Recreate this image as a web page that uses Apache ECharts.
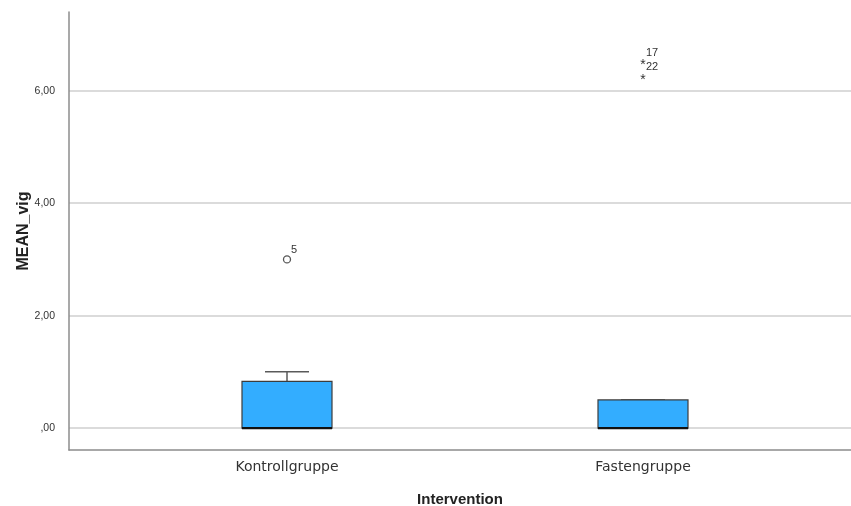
<!DOCTYPE html>
<html>
<head>
<meta charset="utf-8">
<script src="https://cdn.jsdelivr.net/npm/echarts@6/dist/echarts.min.js"></script>
<style>
  html, body { margin: 0; padding: 0; background: #fff; }
  #chart { width: 851px; height: 506px; }
</style>
</head>
<body>
<div id="chart"></div>
<script>
// Boxplot summary per group
const categories = ['Kontrollgruppe', 'Fastengruppe'];
const whiskerLow = [0, 0];
const q1 = [0, 0];
const median = [0, 0];
const q3 = [0.83, 0.5];
const whiskerHigh = [1.0, 0.5];

// Outliers (o) and extreme values (*) with case numbers
const outlierGroup = ['Kontrollgruppe', 'Fastengruppe', 'Fastengruppe'];
const outlierValue = [3.0, 6.5, 6.25];
const outlierCase = ['5', '17', '22'];
const outlierKind = ['o', '*', '*'];

// Y axis ticks and their labels
const yTicks = [0, 2, 4, 6];
const yTickLabels = [',00', '2,00', '4,00', '6,00'];

const Y_MIN = -0.39, Y_MAX = 7.4;
const FONT = '"Liberation Sans", Arial, sans-serif';

const boxData = categories.map((c, i) => [i, whiskerLow[i], q1[i], median[i], q3[i], whiskerHigh[i]]);
const outlierData = outlierGroup.map((g, i) => [categories.indexOf(g), outlierValue[i], i]);

function renderBox(params, api) {
  const x = api.value(0);
  const pLow = api.coord([x, api.value(1)]);
  const pQ1 = api.coord([x, api.value(2)]);
  const pMed = api.coord([x, api.value(3)]);
  const pQ3 = api.coord([x, api.value(4)]);
  const pHigh = api.coord([x, api.value(5)]);
  const half = 45, cap = 22;
  const cx = pQ1[0];
  const line = (x1, y1, x2, y2, color, w) => ({
    type: 'line', shape: { x1, y1, x2, y2 },
    style: { stroke: color, lineWidth: w }
  });
  return {
    type: 'group',
    children: [
      line(cx, pQ3[1], cx, pHigh[1], '#5a5a5a', 1.5),
      line(cx - cap, pHigh[1], cx + cap, pHigh[1], '#5a5a5a', 1.5),
      line(cx, pQ1[1], cx, pLow[1], '#5a5a5a', 1.5),
      line(cx - cap, pLow[1], cx + cap, pLow[1], '#5a5a5a', 1.5),
      {
        type: 'rect',
        shape: { x: cx - half, y: pQ3[1], width: half * 2, height: pQ1[1] - pQ3[1] },
        style: { fill: '#33adff', stroke: '#3c3c3c', lineWidth: 1.2 }
      },
      line(cx - half, pMed[1], cx + half, pMed[1], '#111', 2.2)
    ]
  };
}

function renderOutlier(params, api) {
  const p = api.coord([api.value(0), api.value(1)]);
  const idx = api.value(2);
  const kind = outlierKind[idx];
  const mark = kind === 'o'
    ? { type: 'circle', shape: { cx: p[0], cy: p[1], r: 3.5 }, style: { fill: 'none', stroke: '#555', lineWidth: 1.3 } }
    : { type: 'text', x: p[0], y: p[1] + 3, style: { text: '*', fill: '#333', font: '14px ' + FONT, align: 'center', verticalAlign: 'middle' } };
  const label = {
    type: 'text',
    x: p[0] + (kind === 'o' ? 4 : 3),
    y: p[1] - (kind === 'o' ? 9 : 10),
    style: { text: outlierCase[idx], fill: '#333', font: '11px ' + FONT, align: 'left', verticalAlign: 'middle' }
  };
  return { type: 'group', children: [mark, label] };
}

const chart = echarts.init(document.getElementById('chart'), null, { renderer: 'canvas' });
chart.setOption({
  animation: false,
  backgroundColor: '#fff',
  grid: [
    { left: 69, right: 0, top: 12, bottom: 56, containLabel: false, outerBoundsMode: 'none' },
    { left: 109, width: 712, top: 12, bottom: 56, containLabel: false, outerBoundsMode: 'none' }
  ],
  xAxis: [
    {
      gridIndex: 0, type: 'value', min: 0, max: 1,
      axisLine: { show: true, onZero: false, lineStyle: { color: '#8c8c8c', width: 1.5 } },
      axisTick: { show: false }, axisLabel: { show: false }, splitLine: { show: false },
      name: 'Intervention', nameLocation: 'middle', nameGap: 42, nameMoveOverlap: false,
      nameTextStyle: { fontFamily: FONT, fontSize: 15, fontWeight: 'bold', color: '#222' }
    },
    {
      gridIndex: 1, type: 'category', data: categories, boundaryGap: true,
      axisLine: { show: false }, axisTick: { show: false }, splitLine: { show: false },
      axisLabel: { margin: 10, fontFamily: '"DejaVu Sans", sans-serif', fontSize: 14, color: '#333' }
    }
  ],
  yAxis: [
    {
      gridIndex: 0, type: 'value', min: Y_MIN, max: Y_MAX,
      axisLine: { show: true, lineStyle: { color: '#8c8c8c', width: 1.5 } },
      axisTick: { show: false, customValues: yTicks },
      axisLabel: {
        customValues: yTicks, margin: 14, fontFamily: FONT, fontSize: 10.5, color: '#333',
        formatter: v => yTickLabels[yTicks.indexOf(v)]
      },
      splitLine: { show: true, lineStyle: { color: '#cfcfcf', width: 1.5 } },
      name: 'MEAN_vig', nameLocation: 'middle', nameGap: 37, nameMoveOverlap: false,
      nameTextStyle: { fontFamily: FONT, fontSize: 16, fontWeight: 'bold', color: '#222' }
    },
    {
      gridIndex: 1, type: 'value', min: Y_MIN, max: Y_MAX, show: false,
      splitLine: { show: false }
    }
  ],
  series: [
    {
      type: 'custom', xAxisIndex: 1, yAxisIndex: 1,
      renderItem: renderBox, data: boxData, z: 3
    },
    {
      type: 'custom', xAxisIndex: 1, yAxisIndex: 1,
      renderItem: renderOutlier, data: outlierData, z: 4
    }
  ]
});
</script>
</body>
</html>
